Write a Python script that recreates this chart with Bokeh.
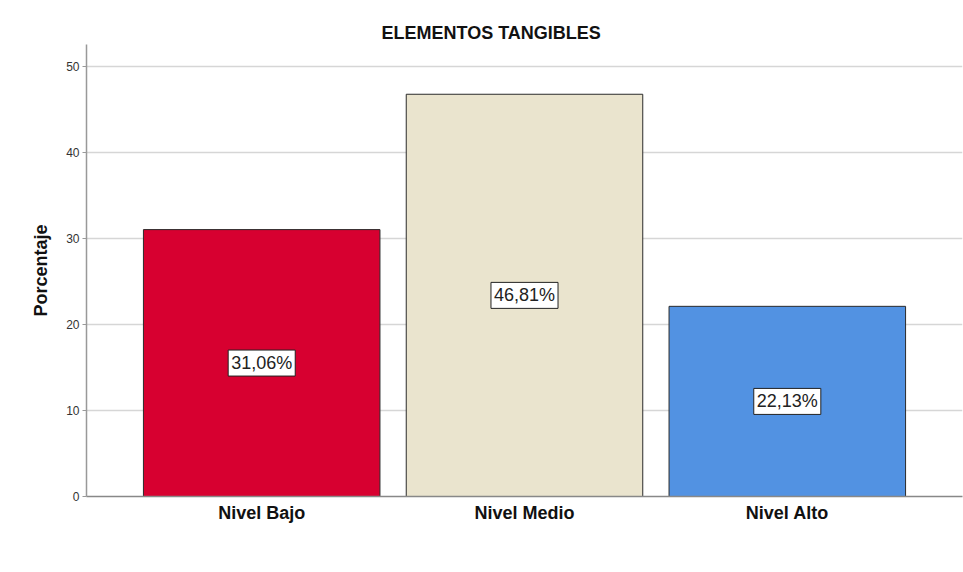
from bokeh.plotting import figure
from bokeh.models import ColumnDataSource, Title, FactorRange
from bokeh.core.properties import value
from bokeh.embed import file_html
from bokeh.resources import INLINE

categories = ["Nivel Bajo", "Nivel Medio", "Nivel Alto"]
percentages = [31.06, 46.81, 22.13]
bar_colors = ["#d70030", "#eae4ce", "#5292e2"]
y_ticks = [0, 10, 20, 30, 40, 50]

labels = [f"{v:.2f}".replace(".", ",") + "%" for v in percentages]
mid = [v / 2 for v in percentages]

src = ColumnDataSource(dict(cat=categories, val=percentages, color=bar_colors,
                            label=labels, mid=mid))

p = figure(width=963, height=572, output_backend="svg", toolbar_location=None,
           x_range=FactorRange(*categories, range_padding=0.1111),
           y_range=(0, 52.6),
           min_border_left=86, min_border_right=1, min_border_top=44,
           min_border_bottom=76)

p.title = Title(text="ELEMENTOS TANGIBLES", align="left", offset=295,
                text_font="Liberation Sans", text_font_size="18px",
                text_font_style="bold", text_color="#111111", standoff=4)

p.vbar(x="cat", top="val", width=0.9, source=src, fill_color="color",
       line_color="#2b2b2b", line_width=1)

p.text(x="cat", y="mid", text="label", source=src,
       text_align="center", text_baseline="middle",
       text_font=value("Liberation Sans"), text_font_size="18px",
       text_color="#222222",
       background_fill_color="white",
       border_line_color="#222222", border_line_width=1,
       padding=3)

p.outline_line_color = None
p.background_fill_color = "white"
p.border_fill_color = "white"

p.xgrid.grid_line_color = None
p.ygrid.grid_line_color = "#d6d6d6"
p.ygrid.grid_line_width = 1.5
p.ygrid.ticker = y_ticks

p.yaxis.ticker = y_ticks
p.yaxis.axis_label = "Porcentaje"
p.yaxis.axis_label_text_font = "Liberation Sans"
p.yaxis.axis_label_text_font_size = "18px"
p.yaxis.axis_label_text_font_style = "bold"
p.yaxis.axis_label_text_color = "#111111"
p.yaxis.axis_label_standoff = 12
p.yaxis.major_label_text_font = "Liberation Sans"
p.yaxis.major_label_text_font_size = "12px"
p.yaxis.major_label_text_color = "#333333"
p.yaxis.major_label_standoff = 3
p.yaxis.major_tick_out = 4
p.yaxis.major_tick_in = 0
p.yaxis.minor_tick_out = 0
p.yaxis.minor_tick_in = 0
p.yaxis.major_tick_line_color = "#999999"
p.yaxis.axis_line_color = "#999999"
p.yaxis.axis_line_width = 1.5

p.xaxis.major_label_text_font = "Liberation Sans"
p.xaxis.major_label_text_font_size = "18px"
p.xaxis.major_label_text_font_style = "bold"
p.xaxis.major_label_text_color = "#111111"
p.xaxis.major_label_standoff = 6
p.xaxis.major_tick_out = 0
p.xaxis.major_tick_in = 0
p.xaxis.axis_line_color = "#888888"
p.xaxis.axis_line_width = 1.5

open("out.html", "w").write(file_html(p, INLINE))
